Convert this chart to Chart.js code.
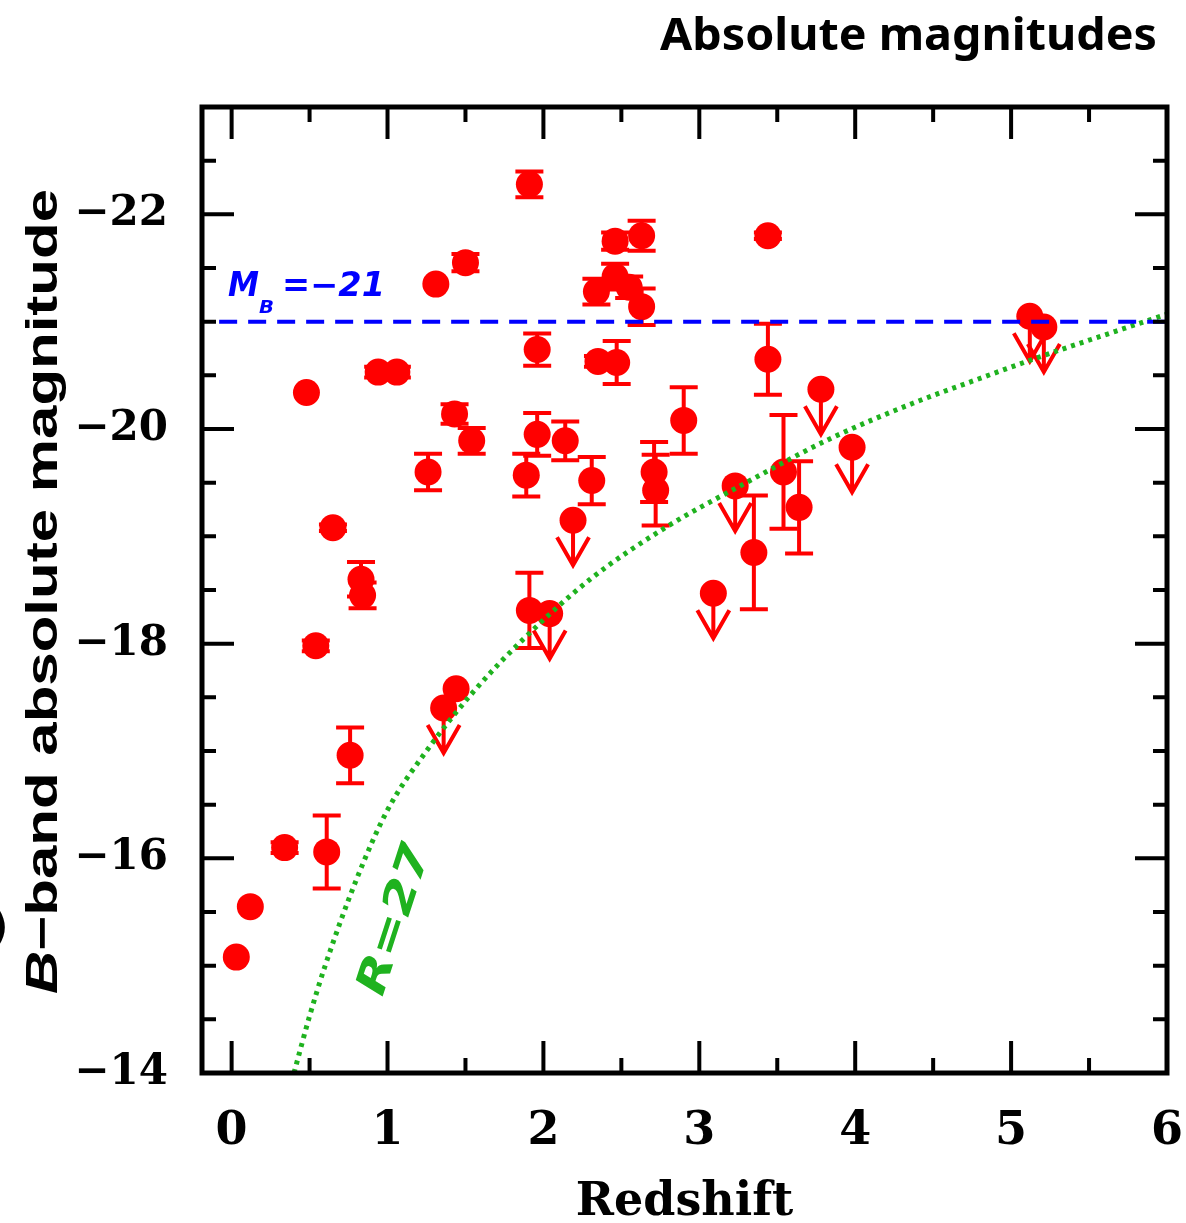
<!DOCTYPE html>
<html>
<head>
<meta charset="utf-8">
<script src="https://cdn.jsdelivr.net/npm/chart.js@4.4.1/dist/chart.umd.min.js"></script>
<style>
  body { margin: 0; background: #fff; }
  #wrap { width: 1186px; height: 1223px; position: relative; }
</style>
</head>
<body>
<div id="wrap"><canvas id="chart"></canvas></div>
<script>
"use strict"

// galaxies: redshift, B-band absolute magnitude, error (0 = none), upper limit flag
const redshift = [0.03, 0.12, 0.34, 0.61, 0.48, 0.54, 0.65, 0.76, 0.83, 0.84,
  0.94, 1.06, 1.26, 1.31, 1.36, 1.44, 1.43, 1.50, 1.54, 1.89,
  1.91, 1.91, 1.96, 1.96, 2.04, 2.14, 2.19, 2.31, 2.34, 2.35,
  2.46, 2.47, 2.46, 2.55, 2.63, 2.63, 2.71, 2.72, 2.90, 3.09,
  3.23, 3.35, 3.44, 3.44, 3.54, 3.64, 3.78, 3.98, 5.12, 5.21]
const absMag = [-15.08, -15.55, -16.10, -16.06, -20.34, -17.98, -19.08, -16.96, -18.60, -18.45,
  -20.53, -20.53, -19.60, -21.35, -17.40, -17.58, -20.14, -21.55, -19.89, -19.57,
  -22.28, -18.31, -20.74, -19.95, -18.28, -19.89, -19.15, -19.52, -21.28, -20.63,
  -21.42, -20.62, -21.75, -21.32, -21.80, -21.14, -19.60, -19.43, -20.08, -18.47,
  -19.47, -18.85, -21.80, -20.65, -19.60, -19.27, -20.37, -19.83, -21.05, -20.95]
const magErr = [0, 0, 0.05, 0.34, 0, 0.05, 0.03, 0.26, 0.16, 0.12,
  0.05, 0.05, 0.17, 0, 0, 0, 0.09, 0.08, 0.12, 0.2,
  0.12, 0.35, 0.15, 0.2, 0, 0.18, 0, 0.22, 0.12, 0.05,
  0.12, 0.2, 0.08, 0.1, 0.14, 0.17, 0.28, 0.33, 0.31, 0,
  0, 0.53, 0.03, 0.33, 0.53, 0.43, 0, 0, 0, 0]
const upperLimit = [0, 0, 0, 0, 0, 0, 0, 0, 0, 0,
  0, 0, 0, 0, 1, 0, 0, 0, 0, 0,
  0, 0, 0, 0, 1, 0, 1, 0, 0, 0,
  0, 0, 0, 0, 0, 0, 0, 0, 0, 1,
  1, 0, 0, 0, 0, 0, 1, 1, 1, 1]

// R=27 limit curve
const limitZ = [0.40, 0.50, 0.60, 0.80, 1.00, 1.25, 1.55, 1.87, 2.30, 2.77, 3.30, 3.84, 4.37, 4.76, 5.18, 5.67, 6.0]
const limitMag = [-14.0, -14.53, -15.0, -15.8, -16.45, -17.0, -17.55, -18.04, -18.6, -19.07, -19.5, -19.91, -20.24, -20.45, -20.67, -20.91, -21.07]

// M_B = -21 reference line
const mbLevel = -21
const mbFrom = -0.08
const mbTo = 6

const xTicks = [0, 1, 2, 3, 4, 5, 6]
const xMinor = [0.5, 1.5, 2.5, 3.5, 4.5, 5.5]
const yTicks = [-22, -20, -18, -16, -14]
const yMinor = [-22.5, -21.5, -21, -20.5, -19.5, -19, -18.5, -17.5, -17, -16.5, -15.5, -15, -14.5]

const red = "#ff0000"
const blue = "#0000ff"
const green = "#1fb21f"

function fitText(ctx, text, x, y, width){
    const w = ctx.measureText(text).width
    ctx.save()
    ctx.translate(x, y)
    ctx.scale(width / w, 1)
    ctx.fillText(text, 0, 0)
    ctx.restore()
}

// error bars and upper-limit arrows, under the circles
const errorBars = {
    id: "errorBars",
    beforeDatasetsDraw(chart){
        const {ctx, scales: {x, y}} = chart
        ctx.save()
        ctx.strokeStyle = red
        ctx.lineWidth = 4
        ctx.lineCap = "butt"
        for (let i = 0; i < redshift.length; i++){
            const px = x.getPixelForValue(redshift[i])
            const py = y.getPixelForValue(absMag[i])
            if (magErr[i] > 0){
                const top = y.getPixelForValue(absMag[i] - magErr[i])
                const bot = y.getPixelForValue(absMag[i] + magErr[i])
                ctx.beginPath()
                ctx.moveTo(px, top); ctx.lineTo(px, bot)
                ctx.moveTo(px - 14, top); ctx.lineTo(px + 14, top)
                ctx.moveTo(px - 14, bot); ctx.lineTo(px + 14, bot)
                ctx.stroke()
            }
            if (upperLimit[i]){
                const tip = py + 45
                ctx.beginPath()
                ctx.moveTo(px, py); ctx.lineTo(px, tip)
                ctx.moveTo(px - 16, tip - 28); ctx.lineTo(px, tip); ctx.lineTo(px + 16, tip - 28)
                ctx.stroke()
            }
        }
        ctx.restore()
    }
}

// frame with inward ticks on all sides, plus the text annotations
const frameAndText = {
    id: "frameAndText",
    afterDraw(chart){
        const {ctx, chartArea: a, scales: {x, y}} = chart
        ctx.save()
        ctx.strokeStyle = "#000"
        ctx.lineWidth = 4
        ctx.beginPath()
        xTicks.forEach(v => {
            const px = x.getPixelForValue(v)
            ctx.moveTo(px, a.bottom); ctx.lineTo(px, a.bottom - 32)
            ctx.moveTo(px, a.top); ctx.lineTo(px, a.top + 32)
        })
        xMinor.forEach(v => {
            const px = x.getPixelForValue(v)
            ctx.moveTo(px, a.bottom); ctx.lineTo(px, a.bottom - 15)
            ctx.moveTo(px, a.top); ctx.lineTo(px, a.top + 15)
        })
        yTicks.forEach(v => {
            const py = y.getPixelForValue(v)
            ctx.moveTo(a.left, py); ctx.lineTo(a.left + 32, py)
            ctx.moveTo(a.right, py); ctx.lineTo(a.right - 32, py)
        })
        yMinor.forEach(v => {
            const py = y.getPixelForValue(v)
            ctx.moveTo(a.left, py); ctx.lineTo(a.left + 14, py)
            ctx.moveTo(a.right, py); ctx.lineTo(a.right - 14, py)
        })
        ctx.stroke()
        ctx.lineWidth = 5
        ctx.strokeRect(a.left, a.top, a.right - a.left, a.bottom - a.top)

        // y axis title, rotated
        ctx.fillStyle = "#000"
        ctx.save()
        ctx.translate(57, 592)
        ctx.rotate(-Math.PI / 2)
        ctx.textBaseline = "alphabetic"
        ctx.font = "italic bold 44px 'Liberation Sans'"
        const wB = ctx.measureText("B").width
        ctx.font = "bold 44px 'Liberation Sans'"
        const rest = "\u2212band absolute magnitude"
        const wRest = ctx.measureText(rest).width
        const k = 805 / (wB + wRest)
        ctx.translate(-402, 0)
        ctx.scale(k, 1)
        ctx.font = "italic bold 44px 'Liberation Sans'"
        ctx.fillText("B", 0, 0)
        ctx.font = "bold 44px 'Liberation Sans'"
        ctx.fillText(rest, wB, 0)
        ctx.restore()

        // slide title
        ctx.font = "bold 44px 'Noto Sans'"
        ctx.textBaseline = "alphabetic"
        fitText(ctx, "Absolute magnitudes", 660, 50, 497)

        // cut-off glyph at the left edge
        ctx.font = "bold 40px 'DejaVu Sans'"
        ctx.fillText(")", -10, 940)

        // M_B = -21 label
        ctx.fillStyle = blue
        ctx.font = "italic bold 33px 'DejaVu Sans'"
        fitText(ctx, "M", 228, 296, 31)
        ctx.font = "italic bold 17px 'DejaVu Sans'"
        fitText(ctx, "B", 259, 313, 15)
        ctx.font = "italic bold 33px 'DejaVu Sans'"
        fitText(ctx, "=\u221221", 282, 296, 103)

        // R=27 label along the curve
        ctx.fillStyle = green
        ctx.save()
        ctx.translate(396, 920)
        ctx.rotate(-72 * Math.PI / 180)
        ctx.font = "italic bold 42px 'DejaVu Sans'"
        ctx.textAlign = "center"
        ctx.textBaseline = "middle"
        const wr = ctx.measureText("R=27").width
        ctx.scale(156 / wr, 1)
        ctx.fillText("R=27", 0, 0)
        ctx.restore()
        ctx.restore()
    }
}

const galaxyPoints = redshift.map((z, i) => ({x: z, y: absMag[i]}))
const limitPoints = limitZ.map((z, i) => ({x: z, y: limitMag[i]}))
const mbPoints = [{x: mbFrom, y: mbLevel}, {x: mbTo, y: mbLevel}]

const config = {
    type: "scatter",
    data: {
        datasets: [
            {
                label: "M_B = -21",
                type: "line",
                data: mbPoints,
                borderColor: blue,
                borderWidth: 4,
                borderDash: [18, 11],
                pointRadius: 0,
                order: 0,
            },
            {
                label: "R = 27",
                type: "line",
                data: limitPoints,
                borderColor: green,
                borderWidth: 5,
                borderDash: [4, 5],
                cubicInterpolationMode: "monotone",
                pointRadius: 0,
                order: 0,
            },
            {
                label: "galaxies",
                data: galaxyPoints,
                backgroundColor: red,
                borderWidth: 0,
                pointRadius: 13.5,
                order: 1,
            },
        ]
    },
    options: {
        responsive: true,
        maintainAspectRatio: false,
        animation: false,
        events: [],
        layout: { padding: { top: 107, right: 19, left: 0, bottom: 0 } },
        plugins: { legend: { display: false }, tooltip: { enabled: false } },
        scales: {
            x: {
                type: "linear",
                min: -0.19,
                max: 6,
                afterBuildTicks: s => { s.ticks = xTicks.map(v => ({value: v})) },
                afterFit: s => { s.height = 150; s.paddingLeft = 0; s.paddingRight = 0 },
                grid: { display: false, drawTicks: false },
                border: { display: false },
                ticks: {
                    color: "#000",
                    padding: 31,
                    maxRotation: 0,
                    autoSkip: false,
                    font: { family: "'DejaVu Serif'", weight: "bold", size: 46 },
                },
                title: {
                    display: true,
                    text: "Redshift",
                    color: "#000",
                    font: { family: "'DejaVu Serif'", weight: "bold", size: 46, lineHeight: 0.8 },
                    padding: { top: 0, bottom: 2 },
                },
            },
            y: {
                type: "linear",
                min: -23,
                max: -14,
                reverse: true,
                afterBuildTicks: s => { s.ticks = yTicks.map(v => ({value: v})) },
                afterFit: s => { s.width = 202; s.paddingTop = 0; s.paddingBottom = 0 },
                grid: { display: false, drawTicks: false },
                border: { display: false },
                ticks: {
                    color: "#000",
                    padding: 34,
                    autoSkip: false,
                    font: { family: "'DejaVu Serif'", weight: "bold", size: 42 },
                    callback: v => "\u2212" + Math.abs(v),
                },
            },
        },
    },
    plugins: [errorBars, frameAndText],
}

const resultChart = new Chart(document.getElementById("chart"), config)
</script>
</body>
</html>
